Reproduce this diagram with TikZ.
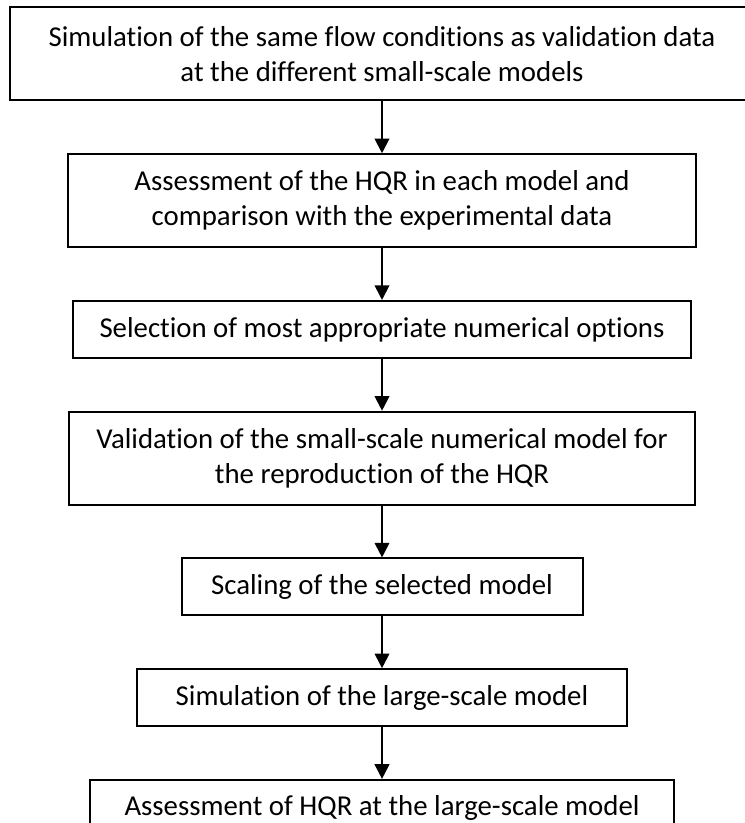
\documentclass[tikz,border=0pt]{standalone}
\usepackage{fontspec}
\setmainfont{Carlito}[Ligatures=NoCommon]
\usepackage{tikz}
\usetikzlibrary{arrows.meta,positioning}

\begin{document}
\begin{tikzpicture}[
    node distance=38.8pt,
    box/.style={draw, line width=1.5pt, align=center, minimum height=42.75pt, inner sep=0pt, font=\fontsize{21.6}{26.3}\selectfont},
    tall/.style={minimum height=69.75pt},
    arrow/.style={-{Triangle[length=11pt, width=11pt]}, line width=1.5pt}
  ]
    \useasboundingbox (0,0) rectangle (558pt,-617.25pt);
    \node[box, tall, minimum width=557.5pt] (sim) at (286.5pt,-40.5pt) {Simulation of the same flow conditions as validation data\\at the different small-scale models};
    \node[box, tall, minimum width=471pt, below=of sim] (hqr) {Assessment of the HQR in each model and\\comparison with the experimental data};
    \node[box, minimum width=463.5pt, below=of hqr] (sel) {Selection of most appropriate numerical options};
    \node[box, tall, minimum width=469.5pt, below=of sel] (val) {Validation of the small-scale numerical model for\\the reproduction of the HQR};
    \node[box, minimum width=300.75pt, below=of val] (scl) {Scaling of the selected model};
    \node[box, minimum width=367.5pt, below=of scl] (lrg) {Simulation of the large-scale model};
    \node[box, minimum width=438pt, below=of lrg] (ass) {Assessment of HQR at the large-scale model};

    \draw[arrow] (sim) -- (hqr);
    \draw[arrow] (hqr) -- (sel);
    \draw[arrow] (sel) -- (val);
    \draw[arrow] (val) -- (scl);
    \draw[arrow] (scl) -- (lrg);
    \draw[arrow] (lrg) -- (ass);
\end{tikzpicture}
\end{document}
